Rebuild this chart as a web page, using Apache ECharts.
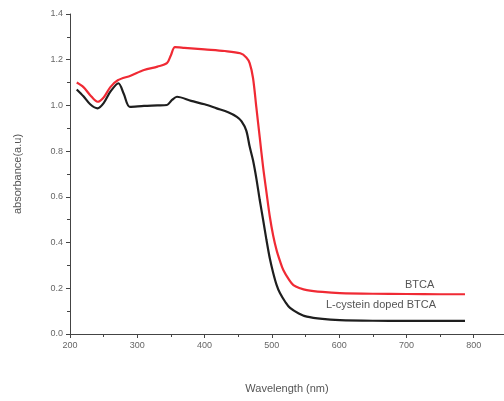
<!DOCTYPE html>
<html>
<head>
<meta charset="utf-8">
<script src="https://cdn.jsdelivr.net/npm/echarts@6/dist/echarts.min.js"></script>
<style>html,body{margin:0;padding:0;background:#fff}#c{width:504px;height:401px}</style>
</head>
<body>
<div id="c"></div>
<script>
const btcaWl = [210,220,230,241,250,260,271,290,310,330,344,350,356,370,400,430,453,462,467,472,477,482,487,492,497,502,507,512,517,525,532,542,552,575,601,650,700,750,787];
const btcaAbs = [1.10,1.08,1.045,1.016,1.035,1.08,1.11,1.13,1.155,1.17,1.185,1.22,1.255,1.252,1.245,1.238,1.228,1.21,1.185,1.12,0.99,0.86,0.73,0.62,0.513,0.43,0.367,0.32,0.28,0.24,0.214,0.20,0.192,0.184,0.179,0.176,0.175,0.174,0.174];
const dopedWl = [210,220,230,241,250,260,272,280,289,310,330,344,352,359,380,400,418,435,448,455,462,467,472,477,482,487,492,497,502,507,512,520,527,540,552,575,601,650,700,750,787];
const dopedAbs = [1.07,1.04,1.005,0.987,1.01,1.06,1.097,1.05,0.994,0.998,1.0,1.002,1.025,1.038,1.02,1.005,0.987,0.97,0.95,0.93,0.89,0.82,0.76,0.68,0.586,0.50,0.411,0.33,0.267,0.215,0.179,0.14,0.114,0.09,0.076,0.066,0.061,0.058,0.057,0.057,0.057];
const seriesNames = ['BTCA','L-cystein doped BTCA'];
const xTitle = 'Wavelength (nm)';
const yTitle = 'absorbance(a.u)';

const chart = echarts.init(document.getElementById('c'));
const font = 'Liberation Sans, Arial, sans-serif';
chart.setOption({
  animation:false,
  backgroundColor:'#fff',
  grid:{left:70,right:0,top:14,bottom:67,containLabel:false},
  xAxis:{type:'value',min:200,max:845,interval:100,
    axisLine:{show:true,lineStyle:{color:'#444',width:1}},
    axisTick:{show:true,inside:false,length:4,lineStyle:{color:'#444'}},
    minorTick:{show:true,splitNumber:2,length:3,lineStyle:{color:'#444'}},
    splitLine:{show:false},
    axisLabel:{color:'#666',fontSize:9,fontFamily:font,margin:7,showMaxLabel:false,
      formatter:v=> (v%100===0 && v<=800)? String(v):''},
    name:xTitle,nameLocation:'middle',nameGap:49,
    nameTextStyle:{color:'#555',fontSize:11,fontFamily:font}
  },
  yAxis:{type:'value',min:0,max:1.4,interval:0.2,
    axisLine:{show:true,lineStyle:{color:'#444',width:1}},
    axisTick:{show:true,inside:false,length:4,lineStyle:{color:'#444'}},
    minorTick:{show:true,splitNumber:2,length:3,lineStyle:{color:'#444'}},
    splitLine:{show:false},
    axisLabel:{color:'#666',fontSize:9,fontFamily:font,margin:7,formatter:v=>v.toFixed(1)},
    name:yTitle,nameLocation:'middle',nameGap:47,nameRotate:90,
    nameTextStyle:{color:'#555',fontSize:11,fontFamily:font}
  },
  series:[
    {name:seriesNames[0],type:'line',showSymbol:false,smooth:0.3,
     data:btcaWl.map((w,i)=>[w,btcaAbs[i]]),
     lineStyle:{color:'#f02a34',width:2.2},itemStyle:{color:'#f02a34'}},
    {name:seriesNames[1],type:'line',showSymbol:false,smooth:0.3,
     data:dopedWl.map((w,i)=>[w,dopedAbs[i]]),
     lineStyle:{color:'#1e1e1e',width:2.2},itemStyle:{color:'#1e1e1e'}}
  ],
  graphic:[
    {type:'text',left:405,top:279,style:{text:seriesNames[0],fill:'#555',font:'11px '+font}},
    {type:'text',left:326,top:299,style:{text:seriesNames[1],fill:'#555',font:'11px '+font}}
  ]
});
</script>
</body>
</html>
